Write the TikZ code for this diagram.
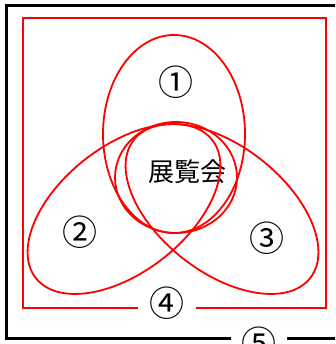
\documentclass[tikz,border=0pt]{standalone}
\usepackage{fontspec}
\setmainfont{Noto Sans CJK JP}
\usetikzlibrary{positioning}

\begin{document}
\begin{tikzpicture}[x=1pt, y=1pt,
    redline/.style={draw=red, line width=1.8pt},
    blackline/.style={draw=black, line width=3pt},
    num/.style={inner sep=0pt, font=\fontsize{35}{35}\selectfont},
    word/.style={inner sep=0pt, font=\fontsize{26}{26}\selectfont},
  ]
    \useasboundingbox (0,0) rectangle (335,344);
    \clip (0,0) rectangle (335,344);

    % Labels
    \node[num] (n1) at (176,262) {①};
    \node[num] (n2) at (80,112) {②};
    \node[num] (n3) at (267,106) {③};
    \node[num, minimum width=57pt] (n4) at (167,41) {④};
    \node[num, minimum width=56pt] (n5) at (259,1) {⑤};
    \node[word] (expo) at (187.5,172) {展覧会};

    % Frames, open at the labels
    \coordinate (redbase) at (0,36);
    \coordinate (blackbase) at (0,5);
    \draw[redline] (n4.west |- redbase) -- (23,36) -- (23,326) -- (326,326) -- (326,36) -- (n4.east |- redbase);
    \draw[blackline] (n5.west |- blackbase) -- (6,5) -- (6,338.5) -- (350,338.5);
    \draw[blackline] (n5.east |- blackbase) -- (350,5);

    % Sets
    \draw[redline] (174,210) ellipse [x radius=71, y radius=99];
    \draw[redline] (176,166.5) ellipse [x radius=61, y radius=55.5];
    \draw[redline, rotate around={38:(124,135)}] (124,135) ellipse [x radius=112, y radius=63];
    \draw[redline, rotate around={-38:(222,135)}] (222,135) ellipse [x radius=112, y radius=63];
\end{tikzpicture}
\end{document}
